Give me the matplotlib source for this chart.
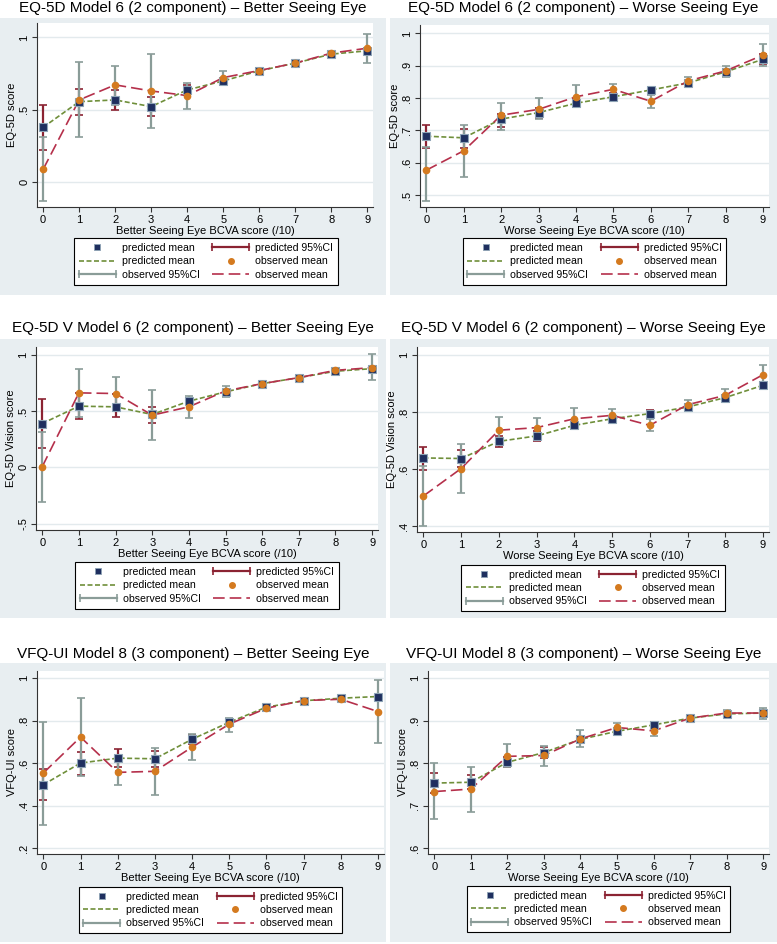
import matplotlib
matplotlib.use("Agg")
import matplotlib.pyplot as plt
from matplotlib.lines import Line2D
from matplotlib.patches import Rectangle
from matplotlib.legend_handler import HandlerLine2D
from matplotlib.ticker import FuncFormatter

plt.rcParams['font.family'] = ['Liberation Sans', 'DejaVu Sans']

# BCVA score bins
bcva = [0, 1, 2, 3, 4, 5, 6, 7, 8, 9]

# EQ-5D, better seeing eye
eq_better_pred = [0.38, 0.557, 0.569, 0.523, 0.638, 0.70, 0.77, 0.823, 0.885, 0.908]
eq_better_pred_lo = [0.224, 0.465, 0.50, 0.459, 0.60, 0.68, 0.755, 0.81, 0.87, 0.89]
eq_better_pred_hi = [0.537, 0.643, 0.638, 0.588, 0.675, 0.72, 0.785, 0.835, 0.90, 0.925]
eq_better_obs = [0.09, 0.569, 0.673, 0.631, 0.599, 0.723, 0.772, 0.823, 0.892, 0.926]
eq_better_obs_lo = [-0.13, 0.31, 0.535, 0.373, 0.507, 0.675, 0.755, 0.81, 0.875, 0.827]
eq_better_obs_hi = [0.316, 0.83, 0.806, 0.885, 0.684, 0.772, 0.79, 0.835, 0.905, 1.023]

# EQ-5D, worse seeing eye
eq_worse_pred = [0.682, 0.677, 0.735, 0.755, 0.784, 0.804, 0.825, 0.847, 0.881, 0.920]
eq_worse_pred_lo = [0.647, 0.647, 0.71, 0.738, 0.772, 0.795, 0.812, 0.838, 0.872, 0.905]
eq_worse_pred_hi = [0.718, 0.704, 0.75, 0.77, 0.797, 0.815, 0.832, 0.857, 0.891, 0.935]
eq_worse_obs = [0.577, 0.637, 0.747, 0.765, 0.804, 0.827, 0.790, 0.853, 0.884, 0.933]
eq_worse_obs_lo = [0.481, 0.555, 0.70, 0.734, 0.773, 0.81, 0.768, 0.84, 0.864, 0.899]
eq_worse_obs_hi = [0.65, 0.716, 0.785, 0.80, 0.84, 0.845, 0.81, 0.865, 0.899, 0.966]

# EQ-5D V, better seeing eye
eqv_better_pred = [0.389, 0.543, 0.537, 0.469, 0.587, 0.670, 0.743, 0.796, 0.853, 0.876]
eqv_better_pred_lo = [0.168, 0.425, 0.448, 0.395, 0.56, 0.65, 0.73, 0.785, 0.84, 0.86]
eqv_better_pred_hi = [0.605, 0.661, 0.655, 0.537, 0.615, 0.69, 0.755, 0.807, 0.866, 0.892]
eqv_better_obs = [0.006, 0.661, 0.655, 0.463, 0.537, 0.678, 0.743, 0.796, 0.861, 0.885]
eqv_better_obs_lo = [-0.31, 0.448, 0.51, 0.242, 0.434, 0.62, 0.725, 0.785, 0.845, 0.773]
eqv_better_obs_hi = [0.316, 0.87, 0.80, 0.684, 0.63, 0.72, 0.76, 0.81, 0.875, 1.009]

# EQ-5D V, worse seeing eye
eqv_worse_pred = [0.639, 0.637, 0.697, 0.716, 0.753, 0.776, 0.794, 0.817, 0.850, 0.893]
eqv_worse_pred_lo = [0.598, 0.607, 0.678, 0.70, 0.74, 0.765, 0.78, 0.808, 0.84, 0.88]
eqv_worse_pred_hi = [0.677, 0.668, 0.715, 0.732, 0.766, 0.787, 0.805, 0.826, 0.86, 0.905]
eqv_worse_obs = [0.506, 0.602, 0.736, 0.745, 0.776, 0.788, 0.753, 0.825, 0.858, 0.930]
eqv_worse_obs_lo = [0.40, 0.517, 0.69, 0.71, 0.74, 0.765, 0.733, 0.81, 0.84, 0.895]
eqv_worse_obs_hi = [0.61, 0.689, 0.782, 0.78, 0.814, 0.81, 0.776, 0.84, 0.88, 0.965]

# VFQ-UI, better seeing eye
vfq_better_pred = [0.499, 0.601, 0.624, 0.621, 0.713, 0.793, 0.864, 0.894, 0.906, 0.914]
vfq_better_pred_lo = [0.425, 0.546, 0.58, 0.582, 0.69, 0.78, 0.855, 0.887, 0.90, 0.905]
vfq_better_pred_hi = [0.574, 0.651, 0.667, 0.656, 0.735, 0.806, 0.873, 0.901, 0.912, 0.923]
vfq_better_obs = [0.554, 0.723, 0.557, 0.562, 0.676, 0.784, 0.859, 0.895, 0.901, 0.843]
vfq_better_obs_lo = [0.311, 0.538, 0.499, 0.452, 0.616, 0.749, 0.845, 0.885, 0.893, 0.695]
vfq_better_obs_hi = [0.796, 0.909, 0.615, 0.671, 0.739, 0.812, 0.872, 0.903, 0.909, 0.992]

# VFQ-UI, worse seeing eye
vfq_worse_pred = [0.753, 0.755, 0.802, 0.825, 0.856, 0.875, 0.890, 0.906, 0.916, 0.918]
vfq_worse_pred_lo = [0.73, 0.74, 0.79, 0.812, 0.848, 0.868, 0.883, 0.90, 0.91, 0.91]
vfq_worse_pred_hi = [0.776, 0.771, 0.815, 0.838, 0.865, 0.883, 0.897, 0.912, 0.922, 0.926]
vfq_worse_obs = [0.733, 0.739, 0.816, 0.818, 0.857, 0.884, 0.876, 0.906, 0.918, 0.918]
vfq_worse_obs_lo = [0.668, 0.686, 0.79, 0.794, 0.838, 0.87, 0.865, 0.90, 0.91, 0.904]
vfq_worse_obs_hi = [0.80, 0.792, 0.845, 0.841, 0.878, 0.894, 0.885, 0.91, 0.925, 0.929]

W, H = 777, 944
BG = '#e8eef1'
C_SQ = '#1f2f5f'
C_SQ_EDGE = '#8da3b5'
C_GREEN = '#6f8f3a'
C_RED_CI = '#8b2332'
C_GRAY_CI = '#8a9c98'
C_ORANGE = '#d47a1f'
C_CRIMSON = '#b5304b'


def fig_box(left, top, right, bottom):
    # pixel box (from top-left) -> figure fraction [x, y, w, h]
    return [left / W, 1 - bottom / H, (right - left) / W, (bottom - top) / H]


def stata_fmt(v, pos):
    s = f"{v:g}"
    return s.replace("0.", ".")


def draw_panel(fig, panel):
    # grey graph region + title
    gx0, gy0, gx1, gy1 = panel['region']
    fig.add_artist(Rectangle((gx0 / W, 1 - gy1 / H), (gx1 - gx0) / W, (gy1 - gy0) / H,
                             transform=fig.transFigure, facecolor=BG, edgecolor='none', zorder=0))
    fig.text((gx0 + gx1) / 2 / W, 1 - panel['title_y'] / H, panel['title'],
             ha='center', va='center', fontsize=11)

    ax = fig.add_axes(fig_box(*panel['axes']))
    ax.set_facecolor('white')
    ax.set_zorder(1)

    pred, plo, phi = panel['pred'], panel['pred_lo'], panel['pred_hi']
    obs, olo, ohi = panel['obs'], panel['obs_lo'], panel['obs_hi']
    perr = [[p - l for p, l in zip(pred, plo)], [h - p for p, h in zip(pred, phi)]]
    oerr = [[o - l for o, l in zip(obs, olo)], [h - o for o, h in zip(obs, ohi)]]

    ax.errorbar(bcva, pred, yerr=perr, fmt='none', ecolor=C_RED_CI, elinewidth=1.6,
                capsize=3, capthick=1.2, zorder=2)
    ax.errorbar(bcva, obs, yerr=oerr, fmt='none', ecolor=C_GRAY_CI, elinewidth=1.6,
                capsize=3, capthick=1.2, zorder=3)
    ax.plot(bcva, pred, color=C_GREEN, lw=1.2, ls=(0, (3, 1.5)), zorder=4)
    ax.plot(bcva, obs, color=C_CRIMSON, lw=1.2, ls=(0, (7, 3)), zorder=4)
    ax.plot(bcva, pred, ls='none', marker='s', ms=6, mfc=C_SQ, mec=C_SQ_EDGE, mew=0.8, zorder=5)
    ax.plot(bcva, obs, ls='none', marker='o', ms=4.5, mfc=C_ORANGE, mec=C_ORANGE, zorder=6)

    ax.set_xlim(-0.17, 9.16)
    ax.set_ylim(*panel['ylim'])
    ax.set_xticks(bcva)
    ax.set_yticks(panel['yticks'])
    ax.yaxis.set_major_formatter(FuncFormatter(stata_fmt))
    ax.tick_params(axis='both', labelsize=8, length=3.5, width=0.8, color='#333333', pad=2)
    ax.tick_params(axis='y', labelrotation=90)
    for lab in ax.get_yticklabels():
        lab.set_va('center')
    ax.grid(axis='y', color='#e3eaed', lw=1.0)
    ax.set_axisbelow(True)
    for side in ['top', 'right']:
        ax.spines[side].set_visible(False)
    for side in ['left', 'bottom']:
        ax.spines[side].set_color('#333333')
        ax.spines[side].set_linewidth(0.8)
    ax.set_xlabel(panel['xlabel'], fontsize=8, labelpad=1)
    ax.set_ylabel(panel['ylabel'], fontsize=8, labelpad=2)

    # legend, Stata row order (column-major for matplotlib)
    h_sq = Line2D([], [], ls='none', marker='s', ms=5, mfc=C_SQ, mec=C_SQ_EDGE, mew=0.6)
    h_green = Line2D([], [], color=C_GREEN, lw=1.2, ls=(0, (3, 1.5)))
    h_gray = Line2D([], [], color=C_GRAY_CI, lw=1.6, marker='|', ms=6, mew=1.2)
    h_red = Line2D([], [], color=C_RED_CI, lw=1.6, marker='|', ms=6, mew=1.2)
    h_dot = Line2D([], [], ls='none', marker='o', ms=4, mfc=C_ORANGE, mec=C_ORANGE)
    h_crim = Line2D([], [], color=C_CRIMSON, lw=1.2, ls=(0, (7, 3)))
    handles = [h_sq, h_green, h_gray, h_red, h_dot, h_crim]
    labels = ['predicted mean', 'predicted mean', 'observed 95%CI',
              'predicted 95%CI', 'observed mean', 'observed mean']
    cap_handler = HandlerLine2D(numpoints=2, marker_pad=0)
    lx0, ly0, lx1, ly1 = panel['legend']
    leg = fig.legend(handles, labels, ncol=2, loc='center',
                     bbox_to_anchor=((lx0 + lx1) / 2 / W, 1 - (ly0 + ly1) / 2 / H),
                     bbox_transform=fig.transFigure,
                     fontsize=7.6, handlelength=3.5, handletextpad=0.55,
                     labelspacing=0.33, borderpad=0.45, columnspacing=1.2, fancybox=False,
                     edgecolor='black', framealpha=1,
                     handler_map={h_gray: cap_handler, h_red: cap_handler})
    leg.get_frame().set_linewidth(0.8)
    return ax


panels = [
    dict(title='EQ-5D Model 6 (2 component) \u2013 Better Seeing Eye', title_y=8,
         region=(0, 18, 386, 295), axes=(37, 23, 373, 207), legend=(79, 238, 333, 285),
         pred=eq_better_pred, pred_lo=eq_better_pred_lo, pred_hi=eq_better_pred_hi,
         obs=eq_better_obs, obs_lo=eq_better_obs_lo, obs_hi=eq_better_obs_hi,
         ylim=(-0.17, 1.1), yticks=[0, 0.5, 1],
         xlabel='Better Seeing Eye BCVA score (/10)', ylabel='EQ-5D score'),
    dict(title='EQ-5D Model 6 (2 component) \u2013 Worse Seeing Eye', title_y=8,
         region=(390, 18, 777, 295), axes=(420, 25, 769, 207), legend=(462, 238, 727, 285),
         pred=eq_worse_pred, pred_lo=eq_worse_pred_lo, pred_hi=eq_worse_pred_hi,
         obs=eq_worse_obs, obs_lo=eq_worse_obs_lo, obs_hi=eq_worse_obs_hi,
         ylim=(0.463, 1.026), yticks=[0.5, 0.6, 0.7, 0.8, 0.9, 1],
         xlabel='Worse Seeing Eye BCVA score (/10)', ylabel='EQ-5D score'),
    dict(title='EQ-5D V Model 6 (2 component) \u2013 Better Seeing Eye', title_y=328,
         region=(0, 339, 386, 618), axes=(36, 347, 378, 530), legend=(77, 562, 337, 609),
         pred=eqv_better_pred, pred_lo=eqv_better_pred_lo, pred_hi=eqv_better_pred_hi,
         obs=eqv_better_obs, obs_lo=eqv_better_obs_lo, obs_hi=eqv_better_obs_hi,
         ylim=(-0.556, 1.068), yticks=[-0.5, 0, 0.5, 1],
         xlabel='Better Seeing Eye BCVA score (/10)', ylabel='EQ-5D Vision score'),
    dict(title='EQ-5D V Model 6 (2 component) \u2013 Worse Seeing Eye', title_y=328,
         region=(390, 339, 777, 618), axes=(417, 347, 769, 532), legend=(459, 564, 727, 612),
         pred=eqv_worse_pred, pred_lo=eqv_worse_pred_lo, pred_hi=eqv_worse_pred_hi,
         obs=eqv_worse_obs, obs_lo=eqv_worse_obs_lo, obs_hi=eqv_worse_obs_hi,
         ylim=(0.38, 1.027), yticks=[0.4, 0.6, 0.8, 1],
         xlabel='Worse Seeing Eye BCVA score (/10)', ylabel='EQ-5D Vision score'),
    dict(title='VFQ-UI Model 8 (3 component) \u2013 Better Seeing Eye', title_y=654,
         region=(0, 663, 386, 942), axes=(37, 671, 384, 854), legend=(79, 887, 342, 933),
         pred=vfq_better_pred, pred_lo=vfq_better_pred_lo, pred_hi=vfq_better_pred_hi,
         obs=vfq_better_obs, obs_lo=vfq_better_obs_lo, obs_hi=vfq_better_obs_hi,
         ylim=(0.173, 1.034), yticks=[0.2, 0.4, 0.6, 0.8, 1],
         xlabel='Better Seeing Eye BCVA score (/10)', ylabel='VFQ-UI score'),
    dict(title='VFQ-UI Model 8 (3 component) \u2013 Worse Seeing Eye', title_y=654,
         region=(390, 663, 777, 942), axes=(428, 671, 769, 854), legend=(469, 886, 728, 932),
         pred=vfq_worse_pred, pred_lo=vfq_worse_pred_lo, pred_hi=vfq_worse_pred_hi,
         obs=vfq_worse_obs, obs_lo=vfq_worse_obs_lo, obs_hi=vfq_worse_obs_hi,
         ylim=(0.586, 1.017), yticks=[0.6, 0.7, 0.8, 0.9, 1],
         xlabel='Worse Seeing Eye BCVA score (/10)', ylabel='VFQ-UI score'),
]

if __name__ == "__main__":
    fig = plt.figure(figsize=(W / 100, H / 100), dpi=100)
    for p in panels:
        draw_panel(fig, p)
    fig.savefig('out.png', dpi=100, facecolor='white')
